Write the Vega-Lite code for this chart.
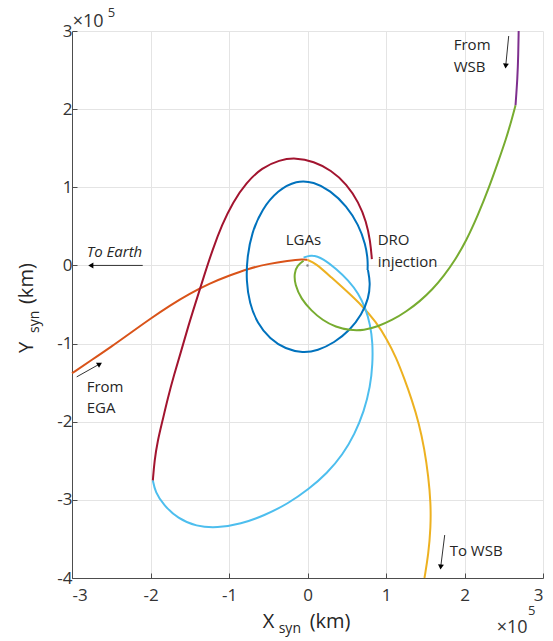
{
"$schema": "https://vega.github.io/schema/vega-lite/v6.json",
"width": 471, "height": 547,
"autosize": {"type": "none"},
"padding": {"left": 72, "top": 31, "right": 10, "bottom": 63},
"background": "white",
"config": {
  "view": {"stroke": null},
  "font": "Open Sans",
  "axis": {"grid": true, "gridColor": "#e4e4e4", "gridWidth": 1, "domainColor": "#4d4d4d", "domainWidth": 1, "tickColor": "#4d4d4d", "tickSize": -5, "labelFont": "Open Sans", "labelFontSize": 17, "labelColor": "#333333"},
  "axisX": {"labelPadding": 14},
  "axisY": {"labelPadding": 5}
},
"datasets": {
  "traj": [
    {"s":"EGA","i":0,"x":-3.0,"y":-1.38},{"s":"EGA","i":1,"x":-2.75,"y":-1.21},{"s":"EGA","i":2,"x":-2.5,"y":-1.04},{"s":"EGA","i":3,"x":-2.25,"y":-0.86},{"s":"EGA","i":4,"x":-2.0,"y":-0.68},{"s":"EGA","i":5,"x":-1.75,"y":-0.51},{"s":"EGA","i":6,"x":-1.5,"y":-0.36},{"s":"EGA","i":7,"x":-1.25,"y":-0.23},{"s":"EGA","i":8,"x":-1.0,"y":-0.13},{"s":"EGA","i":9,"x":-0.75,"y":-0.04},{"s":"EGA","i":10,"x":-0.5,"y":0.02},{"s":"EGA","i":11,"x":-0.25,"y":0.06},{"s":"EGA","i":12,"x":-0.05,"y":0.08},{"s":"EGA","i":13,"x":0.0,"y":0.07},
    {"s":"ToWSB","i":0,"x":0.0,"y":0.07},{"s":"ToWSB","i":1,"x":0.1,"y":0.03},{"s":"ToWSB","i":2,"x":0.3,"y":-0.15},{"s":"ToWSB","i":3,"x":0.5,"y":-0.33},{"s":"ToWSB","i":4,"x":0.7,"y":-0.52},{"s":"ToWSB","i":5,"x":0.87,"y":-0.72},{"s":"ToWSB","i":6,"x":1.01,"y":-0.94},{"s":"ToWSB","i":7,"x":1.13,"y":-1.18},{"s":"ToWSB","i":8,"x":1.23,"y":-1.44},{"s":"ToWSB","i":9,"x":1.33,"y":-1.72},{"s":"ToWSB","i":10,"x":1.42,"y":-2.02},{"s":"ToWSB","i":11,"x":1.49,"y":-2.35},{"s":"ToWSB","i":12,"x":1.54,"y":-2.7},{"s":"ToWSB","i":13,"x":1.57,"y":-3.04},{"s":"ToWSB","i":14,"x":1.57,"y":-3.35},{"s":"ToWSB","i":15,"x":1.54,"y":-3.7},{"s":"ToWSB","i":16,"x":1.49,"y":-4.0},
    {"s":"Loop","i":0,"x":-0.05,"y":0.1},{"s":"Loop","i":1,"x":0.05,"y":0.14},{"s":"Loop","i":2,"x":0.2,"y":0.09},{"s":"Loop","i":3,"x":0.37,"y":-0.05},{"s":"Loop","i":4,"x":0.52,"y":-0.19},{"s":"Loop","i":5,"x":0.65,"y":-0.36},{"s":"Loop","i":6,"x":0.74,"y":-0.55},{"s":"Loop","i":7,"x":0.8,"y":-0.76},{"s":"Loop","i":8,"x":0.83,"y":-0.99},{"s":"Loop","i":9,"x":0.83,"y":-1.26},{"s":"Loop","i":10,"x":0.8,"y":-1.55},{"s":"Loop","i":11,"x":0.72,"y":-1.87},{"s":"Loop","i":12,"x":0.6,"y":-2.16},{"s":"Loop","i":13,"x":0.45,"y":-2.42},{"s":"Loop","i":14,"x":0.25,"y":-2.66},{"s":"Loop","i":15,"x":0.02,"y":-2.86},{"s":"Loop","i":16,"x":-0.25,"y":-3.05},{"s":"Loop","i":17,"x":-0.55,"y":-3.2},{"s":"Loop","i":18,"x":-0.85,"y":-3.31},{"s":"Loop","i":19,"x":-1.15,"y":-3.36},{"s":"Loop","i":20,"x":-1.42,"y":-3.34},{"s":"Loop","i":21,"x":-1.65,"y":-3.24},{"s":"Loop","i":22,"x":-1.83,"y":-3.07},{"s":"Loop","i":23,"x":-1.94,"y":-2.9},{"s":"Loop","i":24,"x":-1.97,"y":-2.75},
    {"s":"Arc","i":0,"x":-1.97,"y":-2.75},{"s":"Arc","i":1,"x":-1.95,"y":-2.5},{"s":"Arc","i":2,"x":-1.91,"y":-2.25},{"s":"Arc","i":3,"x":-1.85,"y":-2.0},{"s":"Arc","i":4,"x":-1.78,"y":-1.7},{"s":"Arc","i":5,"x":-1.7,"y":-1.4},{"s":"Arc","i":6,"x":-1.61,"y":-1.1},{"s":"Arc","i":7,"x":-1.52,"y":-0.78},{"s":"Arc","i":8,"x":-1.42,"y":-0.46},{"s":"Arc","i":9,"x":-1.32,"y":-0.14},{"s":"Arc","i":10,"x":-1.21,"y":0.2},{"s":"Arc","i":11,"x":-1.09,"y":0.52},{"s":"Arc","i":12,"x":-0.95,"y":0.81},{"s":"Arc","i":13,"x":-0.78,"y":1.06},{"s":"Arc","i":14,"x":-0.58,"y":1.25},{"s":"Arc","i":15,"x":-0.36,"y":1.35},{"s":"Arc","i":16,"x":-0.15,"y":1.38},{"s":"Arc","i":17,"x":0.08,"y":1.33},{"s":"Arc","i":18,"x":0.3,"y":1.22},{"s":"Arc","i":19,"x":0.5,"y":1.04},{"s":"Arc","i":20,"x":0.65,"y":0.81},{"s":"Arc","i":21,"x":0.75,"y":0.56},{"s":"Arc","i":22,"x":0.8,"y":0.31},{"s":"Arc","i":23,"x":0.82,"y":0.08},
    {"s":"DRO","i":0,"x":0.77,"y":-0.06},{"s":"DRO","i":1,"x":0.8,"y":-0.22},{"s":"DRO","i":2,"x":0.78,"y":-0.42},{"s":"DRO","i":3,"x":0.69,"y":-0.63},{"s":"DRO","i":4,"x":0.54,"y":-0.83},{"s":"DRO","i":5,"x":0.34,"y":-0.99},{"s":"DRO","i":6,"x":0.13,"y":-1.09},{"s":"DRO","i":7,"x":-0.06,"y":-1.12},{"s":"DRO","i":8,"x":-0.28,"y":-1.07},{"s":"DRO","i":9,"x":-0.48,"y":-0.94},{"s":"DRO","i":10,"x":-0.64,"y":-0.74},{"s":"DRO","i":11,"x":-0.74,"y":-0.48},{"s":"DRO","i":12,"x":-0.78,"y":-0.2},{"s":"DRO","i":13,"x":-0.77,"y":0.1},{"s":"DRO","i":14,"x":-0.71,"y":0.42},{"s":"DRO","i":15,"x":-0.58,"y":0.72},{"s":"DRO","i":16,"x":-0.38,"y":0.96},{"s":"DRO","i":17,"x":-0.14,"y":1.09},{"s":"DRO","i":18,"x":0.08,"y":1.07},{"s":"DRO","i":19,"x":0.29,"y":0.96},{"s":"DRO","i":20,"x":0.5,"y":0.76},{"s":"DRO","i":21,"x":0.65,"y":0.52},{"s":"DRO","i":22,"x":0.74,"y":0.27},{"s":"DRO","i":23,"x":0.77,"y":0.06},{"s":"DRO","i":24,"x":0.765,"y":-0.06},
    {"s":"FromWSB","i":0,"x":-0.05,"y":0.06},{"s":"FromWSB","i":1,"x":-0.13,"y":0.0},{"s":"FromWSB","i":2,"x":-0.17,"y":-0.1},{"s":"FromWSB","i":3,"x":-0.16,"y":-0.25},{"s":"FromWSB","i":4,"x":-0.08,"y":-0.43},{"s":"FromWSB","i":5,"x":0.05,"y":-0.58},{"s":"FromWSB","i":6,"x":0.19,"y":-0.7},{"s":"FromWSB","i":7,"x":0.36,"y":-0.79},{"s":"FromWSB","i":8,"x":0.54,"y":-0.83},{"s":"FromWSB","i":9,"x":0.72,"y":-0.83},{"s":"FromWSB","i":10,"x":0.9,"y":-0.78},{"s":"FromWSB","i":11,"x":1.08,"y":-0.7},{"s":"FromWSB","i":12,"x":1.26,"y":-0.59},{"s":"FromWSB","i":13,"x":1.43,"y":-0.46},{"s":"FromWSB","i":14,"x":1.59,"y":-0.31},{"s":"FromWSB","i":15,"x":1.74,"y":-0.13},{"s":"FromWSB","i":16,"x":1.88,"y":0.07},{"s":"FromWSB","i":17,"x":2.02,"y":0.31},{"s":"FromWSB","i":18,"x":2.17,"y":0.64},{"s":"FromWSB","i":19,"x":2.31,"y":0.99},{"s":"FromWSB","i":20,"x":2.43,"y":1.33},{"s":"FromWSB","i":21,"x":2.53,"y":1.62},{"s":"FromWSB","i":22,"x":2.6,"y":1.86},{"s":"FromWSB","i":23,"x":2.65,"y":2.05},
    {"s":"WSB","i":0,"x":2.65,"y":2.05},{"s":"WSB","i":1,"x":2.675,"y":2.4},{"s":"WSB","i":2,"x":2.685,"y":2.7},{"s":"WSB","i":3,"x":2.69,"y":3.0}
  ],
  "notes": [
    {"k":"note","t":"From","x":1.863,"y":2.757},
    {"k":"note","t":"WSB","x":1.863,"y":2.475},
    {"k":"note","t":"LGAs","x":-0.278,"y":0.261},
    {"k":"note","t":"DRO","x":0.894,"y":0.261},
    {"k":"note","t":"injection","x":0.894,"y":-0.02},
    {"k":"note","t":"From","x":-2.813,"y":-1.62},
    {"k":"note","t":"EGA","x":-2.813,"y":-1.889},
    {"k":"note","t":"To WSB","x":1.811,"y":-3.724},
    {"k":"ital","t":"To Earth","x":-2.813,"y":0.107},
    {"k":"xt","t":"X","x":-0.571,"y":-4.64},
    {"k":"xt","t":"(km)","x":0.028,"y":-4.64},
    {"k":"xs","t":"syn","x":-0.367,"y":-4.705},
    {"k":"yt","t":"Y","x":-3.501,"y":-1.121},
    {"k":"yt","t":"(km)","x":-3.501,"y":-0.494},
    {"k":"ys","t":"syn","x":-3.424,"y":-0.865},
    {"k":"ex","t":"×10","x":-2.991,"y":3.051},
    {"k":"ex","t":"×10","x":2.41,"y":-4.704},
    {"k":"sup","t":"5","x":-2.545,"y":3.179},
    {"k":"sup","t":"5","x":2.81,"y":-4.474}
  ],
  "arrows": [
    {"a":"earth","x":-2.099,"y":0.0,"x2":-2.76,"y2":0.0},
    {"a":"wsbin","x":2.563,"y":2.936,"x2":2.525,"y2":2.552},
    {"a":"ega","x":-2.94,"y":-1.426,"x2":-2.647,"y2":-1.261},
    {"a":"wsbout","x":1.748,"y":-3.45,"x2":1.697,"y2":-3.86}
  ]
},
"encoding": {
  "x": {"field": "x", "type": "quantitative", "scale": {"domain": [-3, 3], "nice": false, "zero": false}, "axis": {"values": [-3, -2, -1, 0, 1, 2, 3], "title": null, "labelExpr": "'' + datum.value"}},
  "y": {"field": "y", "type": "quantitative", "scale": {"domain": [-4, 3], "nice": false, "zero": false}, "axis": {"values": [-4, -3, -2, -1, 0, 1, 2, 3], "title": null, "labelExpr": "'' + datum.value"}}
},
"layer": [
  {"data": {"name": "traj"}, "mark": {"type": "line", "strokeWidth": 2, "interpolate": "basis"},
   "encoding": {"color": {"field": "s", "type": "nominal", "scale": {"domain": ["EGA", "ToWSB", "Loop", "Arc", "DRO", "FromWSB", "WSB"], "range": ["#D95319", "#EDB120", "#4DBEEE", "#A2142F", "#0072BD", "#77AC30", "#7E2F8E"]}, "legend": null}, "order": {"field": "i", "type": "quantitative"}}},
  {"data": {"values": [{"x": 0, "y": 0}]}, "mark": {"type": "point", "filled": true, "size": 6, "color": "#888888", "opacity": 1}},
  {"data": {"name": "arrows"}, "mark": {"type": "rule", "color": "#333333", "strokeWidth": 1}, "encoding": {"x2": {"field": "x2"}, "y2": {"field": "y2"}}},
  {"data": {"name": "arrows"}, "transform": [{"filter": "datum.a == 'earth'"}], "mark": {"type": "point", "shape": "triangle-left", "filled": true, "size": 35, "color": "#000000", "opacity": 1}, "encoding": {"x": {"field": "x2", "type": "quantitative"}, "y": {"field": "y2", "type": "quantitative"}}},
  {"data": {"name": "arrows"}, "transform": [{"filter": "datum.a == 'wsbin'"}], "mark": {"type": "point", "shape": "triangle-down", "angle": 5, "filled": true, "size": 35, "color": "#000000", "opacity": 1}, "encoding": {"x": {"field": "x2", "type": "quantitative"}, "y": {"field": "y2", "type": "quantitative"}}},
  {"data": {"name": "arrows"}, "transform": [{"filter": "datum.a == 'wsbout'"}], "mark": {"type": "point", "shape": "triangle-down", "angle": 6, "filled": true, "size": 35, "color": "#000000", "opacity": 1}, "encoding": {"x": {"field": "x2", "type": "quantitative"}, "y": {"field": "y2", "type": "quantitative"}}},
  {"data": {"name": "arrows"}, "transform": [{"filter": "datum.a == 'ega'"}], "mark": {"type": "point", "shape": "triangle-right", "angle": 329, "filled": true, "size": 35, "color": "#000000", "opacity": 1}, "encoding": {"x": {"field": "x2", "type": "quantitative"}, "y": {"field": "y2", "type": "quantitative"}}},
  {"data": {"name": "notes"}, "transform": [{"filter": "datum.k == 'note'"}], "mark": {"type": "text", "align": "left", "baseline": "alphabetic", "fontSize": 15, "font": "Open Sans", "color": "#262626"}, "encoding": {"text": {"field": "t"}}},
  {"data": {"name": "notes"}, "transform": [{"filter": "datum.k == 'ital'"}], "mark": {"type": "text", "align": "left", "baseline": "alphabetic", "fontSize": 15, "fontStyle": "italic", "font": "Open Sans", "color": "#262626"}, "encoding": {"text": {"field": "t"}}},
  {"data": {"name": "notes"}, "transform": [{"filter": "datum.k == 'xt'"}], "mark": {"type": "text", "align": "left", "baseline": "alphabetic", "fontSize": 20, "font": "Open Sans", "color": "#262626"}, "encoding": {"text": {"field": "t"}}},
  {"data": {"name": "notes"}, "transform": [{"filter": "datum.k == 'xs'"}], "mark": {"type": "text", "align": "left", "baseline": "alphabetic", "fontSize": 14, "font": "Open Sans", "color": "#262626"}, "encoding": {"text": {"field": "t"}}},
  {"data": {"name": "notes"}, "transform": [{"filter": "datum.k == 'yt'"}], "mark": {"type": "text", "align": "left", "baseline": "alphabetic", "angle": 270, "fontSize": 20, "font": "Open Sans", "color": "#262626"}, "encoding": {"text": {"field": "t"}}},
  {"data": {"name": "notes"}, "transform": [{"filter": "datum.k == 'ys'"}], "mark": {"type": "text", "align": "left", "baseline": "alphabetic", "angle": 270, "fontSize": 14, "font": "Open Sans", "color": "#262626"}, "encoding": {"text": {"field": "t"}}},
  {"data": {"name": "notes"}, "transform": [{"filter": "datum.k == 'ex'"}], "mark": {"type": "text", "align": "left", "baseline": "alphabetic", "fontSize": 18, "font": "Open Sans", "color": "#333333"}, "encoding": {"text": {"field": "t"}}},
  {"data": {"name": "notes"}, "transform": [{"filter": "datum.k == 'sup'"}], "mark": {"type": "text", "align": "left", "baseline": "alphabetic", "fontSize": 13, "font": "Open Sans", "color": "#333333"}, "encoding": {"text": {"field": "t"}}}
]
}
